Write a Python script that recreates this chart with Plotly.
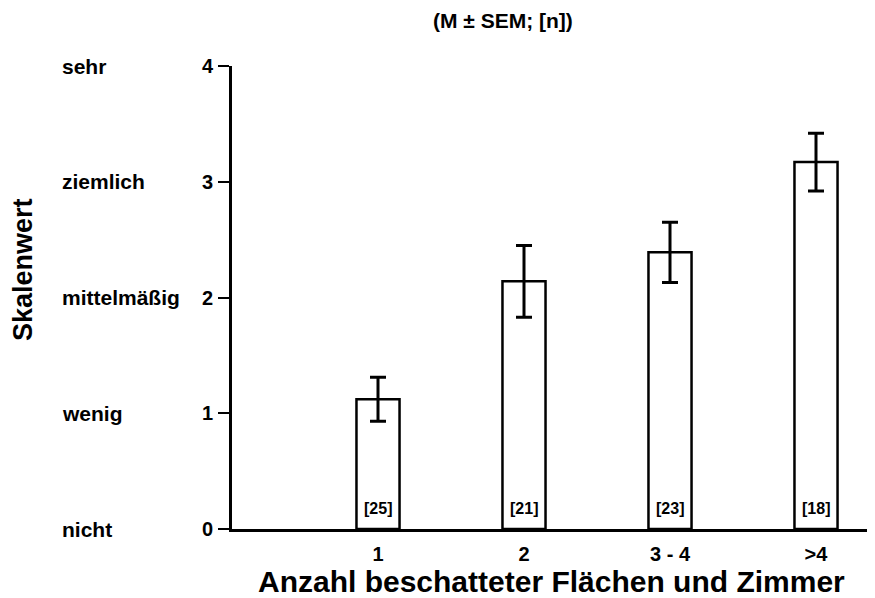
import plotly.graph_objects as go

categories = ["1", "2", "3 - 4", ">4"]
means = [1.12, 2.14, 2.39, 3.17]
err_plus = [0.19, 0.31, 0.26, 0.25]
err_minus = [0.19, 0.31, 0.26, 0.25]
n_labels = ["[25]", "[21]", "[23]", "[18]"]
scale_values = [0, 1, 2, 3, 4]
scale_words = ["nicht", "wenig", "mittelmäßig", "ziemlich", "sehr"]

xpos = list(range(1, len(categories) + 1))
FONT = "Liberation Sans, Arial, sans-serif"

# page offset compensation (body margin of 8px in the written html)
L, T, B = 224, 58, 77
PW = 875 - L
PH = 598 - T - B
PAGE_LEFT, PAGE_TOP = L + 8, T + 8


def px(xpage):
    return (xpage - PAGE_LEFT) / PW


def py(ypage):
    return (PAGE_TOP + PH - ypage) / PH


fig = go.Figure()
fig.add_trace(go.Bar(
    x=xpos, y=means, width=0.295,
    marker=dict(color="white", line=dict(color="black", width=2.5)),
    error_y=dict(type="data", array=err_plus, arrayminus=err_minus,
                 color="black", thickness=3, width=8, symmetric=False),
    showlegend=False,
))

annotations = []
for xp, lab in zip(xpos, n_labels):
    annotations.append(dict(x=xp, y=0, xref="x", yref="y", text=lab,
                            showarrow=False, yanchor="bottom", yshift=10,
                            font=dict(family=FONT, size=16, color="black", weight="bold")))
for v, w in zip(scale_values, scale_words):
    annotations.append(dict(x=px(60), y=v, xref="paper", yref="y", text=w,
                            showarrow=False, xanchor="left", yanchor="middle",
                            font=dict(family=FONT, size=21, color="black", weight="bold")))
annotations.append(dict(x=px(503), y=py(20), xref="paper", yref="paper",
                        text="(M ± SEM; [n])", showarrow=False, yanchor="middle",
                        xanchor="center",
                        font=dict(family=FONT, size=21, color="black", weight="bold")))
annotations.append(dict(x=px(23), y=py(270), xref="paper", yref="paper",
                        text="Skalenwert", showarrow=False, textangle=-90,
                        xanchor="center", yanchor="middle",
                        font=dict(family=FONT, size=27, color="black", weight="bold")))
annotations.append(dict(x=px(551), y=py(581), xref="paper", yref="paper",
                        text="Anzahl beschatteter Flächen und Zimmer", showarrow=False,
                        xanchor="center", yanchor="middle",
                        font=dict(family=FONT, size=30, color="black", weight="bold")))

fig.update_layout(
    width=875, height=598,
    margin=dict(l=L, r=0, t=T, b=B, pad=0),
    plot_bgcolor="white", paper_bgcolor="white",
    font=dict(family=FONT, color="black", weight="bold"),
    annotations=annotations,
    xaxis=dict(
        range=[0, PW / 146.0], tickmode="array", tickvals=xpos, ticktext=categories,
        showgrid=False, zeroline=False, showline=True, linecolor="black", linewidth=2.5,
        ticks="", ticklabelstandoff=5,
        tickfont=dict(family=FONT, size=20, color="black", weight="bold"),
    ),
    yaxis=dict(
        range=[0, 4], tickmode="array", tickvals=scale_values,
        ticktext=[str(v) for v in scale_values],
        showgrid=False, zeroline=False, showline=True, linecolor="black", linewidth=3,
        ticks="outside", ticklen=11, tickwidth=2, tickcolor="black", ticklabelstandoff=1,
        tickfont=dict(family=FONT, size=20, color="black", weight="bold"),
    ),
)
fig.write_html("out.html")
